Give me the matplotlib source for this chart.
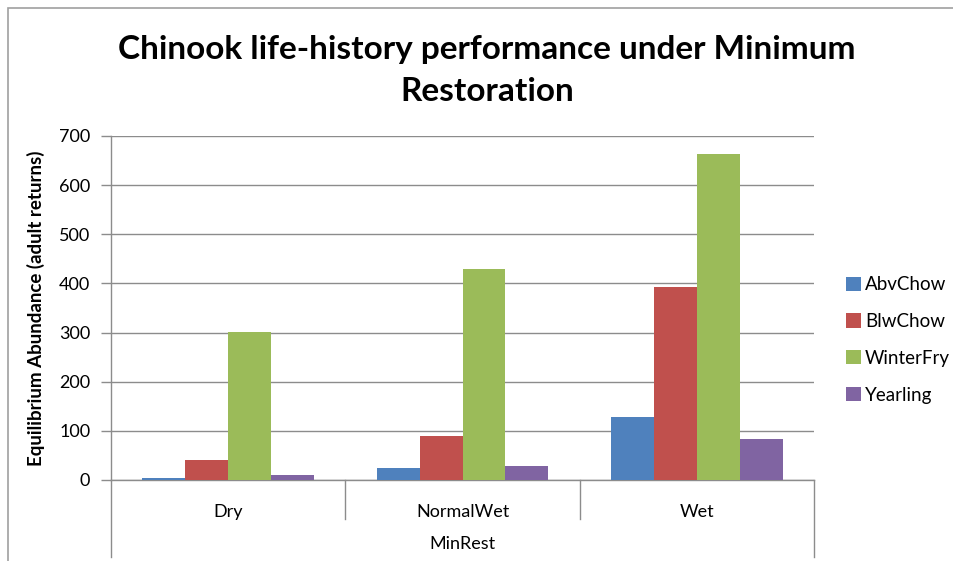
import numpy as np
import matplotlib
matplotlib.use('Agg')
import matplotlib.pyplot as plt
from matplotlib.patches import Rectangle

plt.rcParams['font.family'] = ['Lato', 'DejaVu Sans']

# Equilibrium abundance (adult returns) per water-year type
scenarios = ['Dry', 'NormalWet', 'Wet']
group_label = 'MinRest'
abv_chow = [5, 24, 129]
blw_chow = [41, 90, 392]
winter_fry = [302, 430, 664]
yearling = [10, 29, 83]

series_names = ['AbvChow', 'BlwChow', 'WinterFry', 'Yearling']
series_colors = ['#4F81BD', '#C0504D', '#9BBB59', '#8064A2']
y_ticks = [0, 100, 200, 300, 400, 500, 600, 700]

grid_color = '#8c8c8c'

fig = plt.figure(figsize=(9.54, 5.61), dpi=100)
ax = fig.add_axes([0.1164, 0.1444, 0.7369, 0.6132])

x = np.arange(len(scenarios))
width = 0.183
all_series = [abv_chow, blw_chow, winter_fry, yearling]
for i, (vals, name, color) in enumerate(zip(all_series, series_names, series_colors)):
    ax.bar(x + (i - 1.5) * width, vals, width, color=color, label=name, zorder=3)

ax.set_xlim(-0.5, len(scenarios) - 0.5)
ax.set_ylim(0, 700)
ax.set_yticks(y_ticks)
ax.yaxis.grid(True, color=grid_color, linewidth=1)
ax.set_axisbelow(True)

for side in ['top', 'right']:
    ax.spines[side].set_visible(False)
for side in ['left', 'bottom']:
    ax.spines[side].set_color(grid_color)
    ax.spines[side].set_linewidth(1)

ax.tick_params(axis='y', length=7, width=1, color=grid_color, pad=8,
               labelsize=13, labelcolor='black')
ax.set_xticks(x)
ax.set_xticklabels(scenarios)
ax.tick_params(axis='x', length=0, pad=17, labelsize=13)

# multi-level category axis: separators and the outer group label
trans = ax.get_xaxis_transform()
for sep in np.arange(0.5, len(scenarios) - 0.5):
    ax.plot([sep, sep], [0, -0.1134], color=grid_color, lw=1, transform=trans, clip_on=False)
for edge in [0, 1]:
    ax.plot([edge, edge], [0, -0.224], color=grid_color, lw=1,
            transform=ax.transAxes, clip_on=False)
ax.text(x.mean(), -0.186, group_label, transform=trans, ha='center', va='center',
        fontsize=13)

ax.set_ylabel('Equilibrium Abundance (adult returns)', fontsize=13.5,
              fontweight='bold')
ax.yaxis.set_label_coords(-0.094, 0.5)

ax.legend(loc='center left', bbox_to_anchor=(1.0455, 0.407), frameon=False,
          borderaxespad=0, borderpad=0, fontsize=13.5, labelspacing=1.05,
          handlelength=0.8, handleheight=0.8, handletextpad=0.2)

fig.text(0.5105, 0.875, 'Chinook life-history performance under Minimum\nRestoration',
         ha='center', va='center', fontsize=24, fontweight='bold', linespacing=1.55)

# chart border
fig.add_artist(Rectangle((8 / 954, -0.1), 1.2, 553 / 561 + 0.1,
                         transform=fig.transFigure, fill=False,
                         edgecolor='#a0a0a0', lw=1.2))

fig.savefig('out.png', dpi=100)
